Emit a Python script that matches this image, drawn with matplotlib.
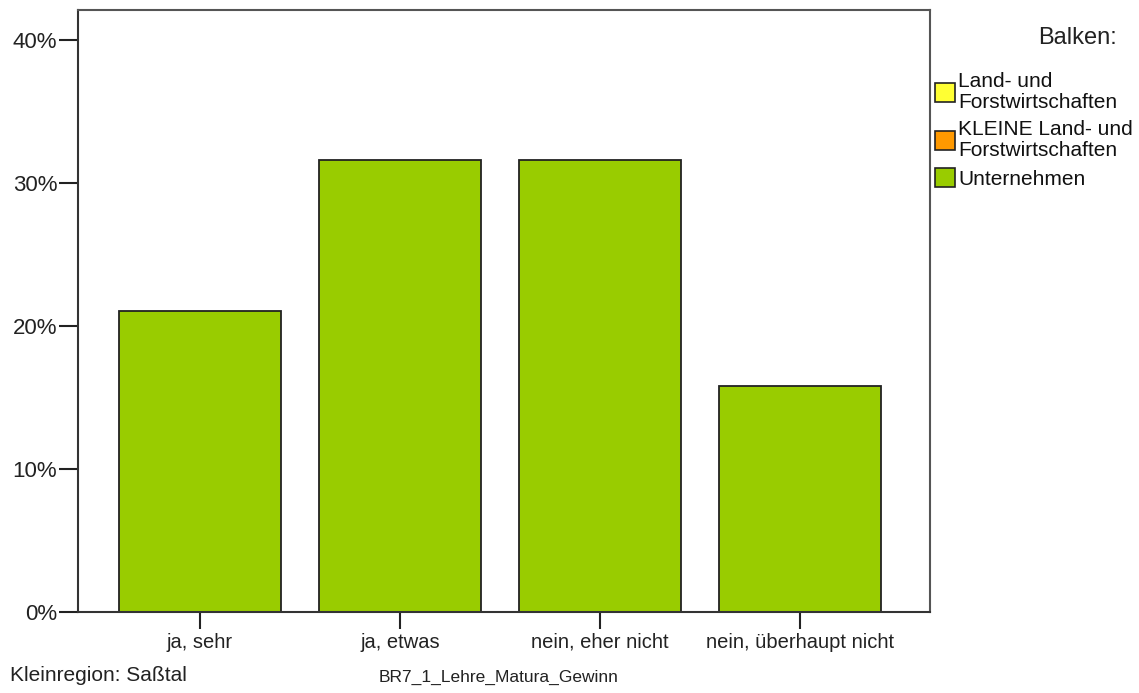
import matplotlib.pyplot as plt
from matplotlib.patches import Patch
from matplotlib.ticker import PercentFormatter

plt.rcParams['font.family'] = ['Liberation Sans', 'DejaVu Sans']

# Data
categories = ["ja, sehr", "ja, etwas", "nein, eher nicht", "nein, überhaupt nicht"]
unternehmen = [21.05, 31.58, 31.58, 15.79]
legend_labels = ["Land- und\nForstwirtschaften",
                 "KLEINE Land- und\nForstwirtschaften",
                 "Unternehmen"]
legend_colors = ["#ffff33", "#ff9900", "#99cc00"]

fig = plt.figure(figsize=(11.39, 6.93), dpi=100)
ax = fig.add_axes([0.0685, 0.117, 0.748, 0.869])

x = range(len(categories))
ax.bar(x, unternehmen, width=0.81, color="#99cc00", edgecolor="#222222", linewidth=1.3)

ax.set_xlim(-0.61, 3.65)
ax.set_ylim(0, 42.1)
ax.set_yticks([0, 10, 20, 30, 40])
ax.yaxis.set_major_formatter(PercentFormatter(decimals=0))
ax.set_xticks(list(x))
ax.set_xticklabels(categories)
ax.tick_params(axis="both", colors="#222222", length=12, width=1.5)
ax.tick_params(axis="x", labelsize=14.5, pad=3)
ax.tick_params(axis="y", labelsize=16, length=14, pad=1)
for s in ax.spines.values():
    s.set_color("#555555")
    s.set_linewidth(1.5)
ax.spines["left"].set_color("#333333")
ax.spines["bottom"].set_color("#333333")

# Legend
handles = [Patch(facecolor=c, edgecolor="#222222", linewidth=1.2) for c in legend_colors]
leg = fig.legend(handles, legend_labels, loc="upper left", bbox_to_anchor=(0.821, 0.896),
                 frameon=False, fontsize=15, handlelength=0.95, handleheight=1.0,
                 handletextpad=0.15, labelspacing=0.38, borderaxespad=0, borderpad=0)
for t in leg.get_texts():
    t.set_linespacing(1.15)
    t.set_color("#111111")
fig.text(0.981, 0.945, "Balken:", ha="right", va="center", fontsize=17, color="#222222")

fig.text(0.009, 0.025, "Kleinregion: Saßtal", ha="left", va="center", fontsize=15, color="#222222")
fig.text(0.332, 0.022, "BR7_1_Lehre_Matura_Gewinn", ha="left", va="center", fontsize=12.5, color="#222222")

fig.savefig("out.png", dpi=100)
